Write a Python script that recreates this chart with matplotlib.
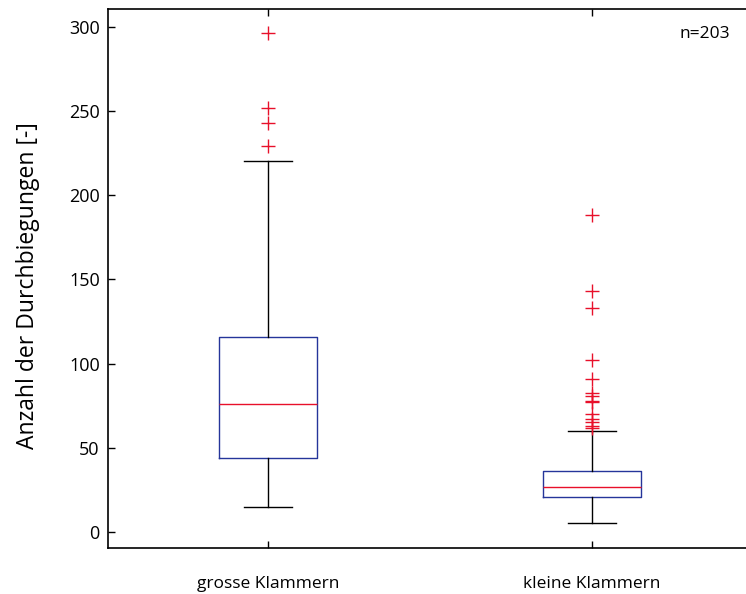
import matplotlib
matplotlib.use("Agg")
import matplotlib.pyplot as plt

# box statistics per group
groups = ['grosse Klammern', 'kleine Klammern']
q1 = [44, 20.5]
median = [76, 27]
q3 = [116, 36.5]
whisker_low = [15, 5.5]
whisker_high = [220, 60]
outliers = [
    [296, 252, 243, 229],
    [188, 143, 133, 102, 91, 82.5, 81, 78, 77, 70, 67, 65.5, 63, 62],
]
n_total = 203

box_blue = '#25359a'
mark_red = '#e8102a'

plt.rcParams['font.family'] = ['Open Sans', 'DejaVu Sans']

fig = plt.figure(figsize=(7.46, 5.94), dpi=100)
ax = fig.add_axes([108 / 746, 46 / 594, 648 / 746, 539 / 594])

stats = []
for i, name in enumerate(groups):
    stats.append({
        'label': name,
        'q1': q1[i], 'med': median[i], 'q3': q3[i],
        'whislo': whisker_low[i], 'whishi': whisker_high[i],
        'fliers': outliers[i],
    })

ax.bxp(stats, positions=[1, 2], widths=0.3, showfliers=True,
       boxprops=dict(color=box_blue, linewidth=1.0),
       medianprops=dict(color=mark_red, linewidth=1.0),
       whiskerprops=dict(color='black', linewidth=1.0),
       capprops=dict(color='black', linewidth=1.0),
       capwidths=0.15,
       flierprops=dict(marker='+', markeredgecolor=mark_red, markersize=10,
                       markeredgewidth=1.0, linestyle='none'))

ax.set_xlim(0.506, 2.506)
ax.set_ylim(-9.5, 310.5)
ax.set_yticks([0, 50, 100, 150, 200, 250, 300])
ax.tick_params(axis='both', direction='in', top=True, right=True, length=5,
               width=1.0)
ax.tick_params(axis='y', labelsize=13, pad=6)
ax.tick_params(axis='x', labelsize=12.5, pad=20)
for s in ax.spines.values():
    s.set_linewidth(1.2)

ax.set_ylabel('Anzahl der Durchbiegungen [-]', fontsize=16.5, labelpad=21)
ax.yaxis.label.set_y(0.487)
ax.text(0.96, 0.953, 'n=%d' % n_total, transform=ax.transAxes,
        ha='right', va='center', fontsize=12.5)

fig.savefig('out.png', dpi=100)
